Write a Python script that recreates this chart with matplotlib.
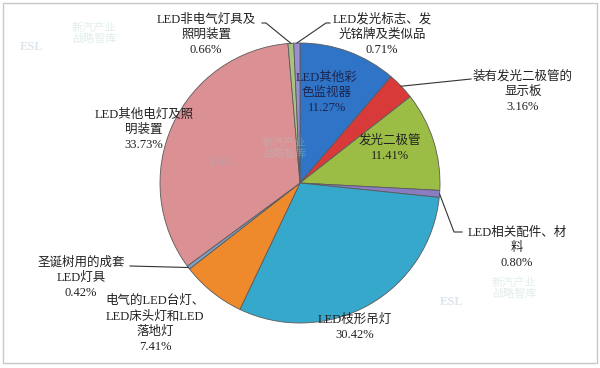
import numpy as np
import matplotlib
matplotlib.use("Agg")
import matplotlib.pyplot as plt

plt.rcParams['font.family'] = ['Liberation Serif', 'Noto Sans CJK SC', 'DejaVu Sans']

# data, clockwise from 12 o'clock
names = ["LED其他彩\n色监视器", "装有发光二极管的\n显示板", "发光二极管", "LED相关配件、材\n料",
         "LED枝形吊灯", "电气的LED台灯、\nLED床头灯和LED\n落地灯", "圣诞树用的成套\nLED灯具",
         "LED其他电灯及照\n明装置", "LED非电气灯具及\n照明装置", "LED发光标志、发\n光铭牌及类似品"]
shares = [11.27, 3.16, 11.41, 0.80, 30.42, 7.41, 0.42, 33.73, 0.66, 0.71]
colors = ["#2f74c6", "#d83a3a", "#9cbd45", "#8a7cc0", "#36a8cc", "#ee8a2b",
          "#7f9fc0", "#db9094", "#a9c27f", "#9a90d0"]

# label layout in pixel coords (x, y from top), leader end (or None)
label_pos = [(327, 93), (523, 92), (390, 148), (517, 248), (355, 327),
             (155, 324), (81, 278), (144, 130), (206, 35), (382, 35)]
leader_end = [None, (471, 79), None, (458, 232), None, None, (130, 266), None, (266, 23), (326, 23)]

W, H = 600, 368
fig = plt.figure(figsize=(6.0, 3.68), dpi=100)
ax = fig.add_axes([0, 0, 1, 1])
ax.set_xlim(0, W)
ax.set_ylim(0, H)
ax.set_aspect('equal')
ax.axis('off')

cx, cy, R = 300, H - 183, 140
wedges, _ = ax.pie(shares, colors=colors, startangle=90, counterclock=False,
                   center=(cx, cy), radius=R, frame=True,
                   wedgeprops=dict(edgecolor='#5a5a5a', linewidth=0.6))
ax.set_xlim(0, W)
ax.set_ylim(0, H)
ax.axis('off')

# frame around the picture
ax.add_patch(plt.Rectangle((3, 5), W - 6, H - 8, fill=False, edgecolor='#c8c8c8', linewidth=1))

# faint watermarks
for (wx, wy, s) in [(60, 35, 1.0), (250, 150, 1.0), (480, 290, 1.0)]:
    ax.text(wx - 28, H - wy - 12, "ESL", fontsize=9, fontweight='bold', color='#9fb4c8', alpha=0.35,
            ha='center', va='center')
    ax.text(wx + 12, H - wy + 2, "新汽产业\n战略智库", fontsize=8, color='#a8d0c8', alpha=0.35,
            ha='left', va='center', linespacing=1.0)

for i, w in enumerate(wedges):
    lx, ly = label_pos[i]
    txt = names[i] + "\n" + f"{shares[i]:.2f}%"
    tcol = '#1c2550' if i in (0,) else '#222222'
    ax.text(lx, H - ly, txt, ha='center', va='center', fontsize=9, color=tcol, linespacing=1.35)
    if leader_end[i] is not None:
        mid = np.deg2rad((w.theta1 + w.theta2) / 2)
        px, py = cx + R * np.cos(mid), cy + R * np.sin(mid)
        ex, ey = leader_end[i]
        ey = H - ey
        if i == 3:
            ax.plot([px, ex - 4, ex + 4], [py, ey, ey], color='#333333', linewidth=0.8)
        elif i in (8, 9):
            ax.plot([px, ex, ex + (-4 if i == 8 else 4)], [py, ey, ey], color='#333333', linewidth=0.8)
        else:
            ax.plot([px, ex], [py, ey], color='#333333', linewidth=0.8)

fig.savefig("out.png", dpi=100, facecolor='white')
